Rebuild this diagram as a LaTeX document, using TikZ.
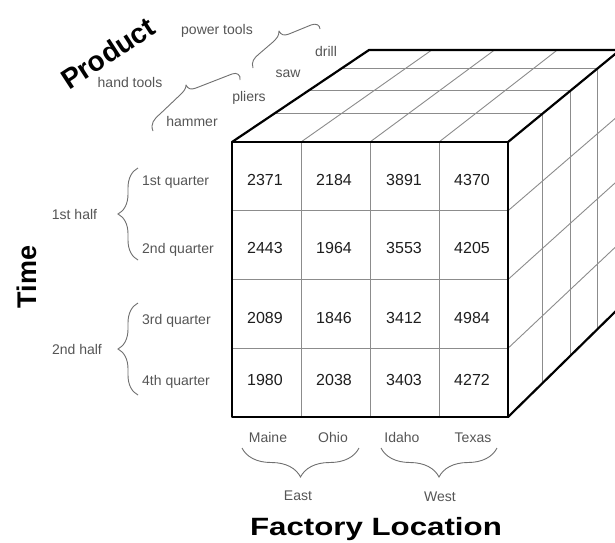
\documentclass[tikz,border=0pt]{standalone}
\usepackage{fontspec}
\usepackage{graphicx}
\setmainfont{Liberation Sans}
\usetikzlibrary{calc,decorations.pathreplacing}
\definecolor{lab}{HTML}{555555}
\definecolor{gridc}{HTML}{8C8C8C}
\definecolor{numc}{HTML}{1E1E1E}
\definecolor{bracec}{HTML}{707070}
\begin{document}
\begin{tikzpicture}[x=1pt,y=-1pt,
  lbl/.style={font=\fontsize{14}{16}\selectfont, text=lab, inner sep=0pt},
  numlbl/.style={font=\fontsize{16}{18}\selectfont, text=numc, inner sep=0pt},
  title/.style={font=\fontsize{27}{30}\selectfont\bfseries, text=black, inner sep=0pt},
  edgeline/.style={line width=2.2pt, black, line join=round, line cap=round},
  gridline/.style={line width=0.9pt, gridc},
  bracel/.style={draw=bracec, line width=0.9pt, decorate, decoration={brace, amplitude=#1}},
  bracepath/.style={draw=bracec, line width=0.9pt, line join=round},
]
\fill[white] (0,0) rectangle (615,542);
\useasboundingbox (0,0) rectangle (615,542);
\clip (0,0) rectangle (615,542);

% cube corners
\coordinate (A) at (232,142);
\coordinate (B) at (508,142);
\coordinate (C) at (508,417);
\coordinate (D) at (232,417);
\coordinate (A2) at (369,50);
\coordinate (B2) at (620,50);
\coordinate (C2) at (620,307);

% front grid
\foreach \i in {1,2,3} {
  \draw[gridline] ($(A)!\i/4!(B)$) -- ($(D)!\i/4!(C)$);
  \draw[gridline] ($(A)!\i/4!(D)$) -- ($(B)!\i/4!(C)$);
}
% top and right face grid
\foreach \t in {0.31,0.555,0.8} {
  \draw[gridline] ($(A)!\t!(A2)$) -- ($(B)!\t!(B2)$);
  \draw[gridline] ($(B)!\t!(B2)$) -- ($(C)!\t!(C2)$);
}
\foreach \i in {1,2,3} {
  \draw[gridline] ($(A)!\i/4!(B)$) -- ($(A2)!\i/4!(B2)$);
  \draw[gridline] ($(B)!\i/4!(C)$) -- ($(B2)!\i/4!(C2)$);
}
% outer edges
\draw[edgeline] (A) -- (B) -- (C) -- (D) -- cycle;
\draw[edgeline] (A) -- (A2) -- (B2);
\draw[edgeline] (B) -- (B2);
\draw[edgeline] (C) -- (C2);

% numbers
\foreach \r/\y/\a/\b/\c/\d in {1/180/2371/2184/3891/4370,
                              2/248/2443/1964/3553/4205,
                              3/318/2089/1846/3412/4984,
                              4/380/1980/2038/3403/4272} {
  \node[numlbl] (n\r a) at (265,\y) {\a};
  \node[numlbl] (n\r b) at (334,\y) {\b};
  \node[numlbl] (n\r c) at (404,\y) {\c};
  \node[numlbl] (n\r d) at (472,\y) {\d};
}

% titles
\node[title, rotate=33, font=\fontsize{28}{30}\selectfont\bfseries] (product) at (108,53) {Product};
\node[title, rotate=90] (time) at (27,277) {Time};
\node[title, anchor=base, font=\fontsize{25}{28}\selectfont\bfseries] (factory) at (376,535) {\scalebox{1.25}[1]{Factory Location}};

% time labels
\node[lbl, anchor=base west] (q1) at (142,185) {1st quarter};
\node[lbl, anchor=base west] (q2) at (142,253) {2nd quarter};
\node[lbl, anchor=base west] (q3) at (142,324) {3rd quarter};
\node[lbl, anchor=base west] (q4) at (142,385) {4th quarter};
\node[lbl, anchor=base] (h1) at (74.5,219.5) {1st half};
\node[lbl, anchor=base] (h2) at (77,354.5) {2nd half};
\draw[bracel=20] (138,260) -- (138,168);
\draw[bracel=20] (138,395) -- (138,303);

% location labels
\node[lbl, anchor=base] (maine) at (268,442) {Maine};
\node[lbl, anchor=base] (ohio) at (333,442) {Ohio};
\node[lbl, anchor=base] (idaho) at (402,442) {Idaho};
\node[lbl, anchor=base] (texas) at (473,442) {Texas};
\node[lbl, anchor=base] (east) at (298,500) {East};
\node[lbl, anchor=base] (west) at (440,501) {West};
\draw[bracel=29] (359,448) -- (242,448);
\draw[bracel=29] (497,448) -- (381,448);

% product labels
\node[lbl, anchor=base] (power) at (217,34.5) {power tools};
\node[lbl, anchor=base] (hand) at (130,87.5) {hand tools};
\node[lbl, anchor=base] (hammer) at (192,126) {hammer};
\node[lbl, anchor=base] (pliers) at (249,101) {pliers};
\node[lbl, anchor=base] (saw) at (288,77) {saw};
\node[lbl, anchor=base] (drill) at (326,56) {drill};
\draw[bracepath] (153,131) .. controls (150,124) and (154,119) .. (160,114) -- (180,95)
  .. controls (184,91) and (186,89) .. (186,85) .. controls (188,89) and (191,90) .. (196,88)
  -- (232,74) .. controls (237,72) and (241,75) .. (240,80);
\draw[bracepath] (253,68) .. controls (251,62) and (254,58) .. (259,54) -- (273,42)
  .. controls (277,38) and (279,36) .. (279,31) .. controls (281,35) and (284,36) .. (289,34)
  -- (311,25) .. controls (316,23) and (320,25) .. (320,29);
\end{tikzpicture}
\end{document}
